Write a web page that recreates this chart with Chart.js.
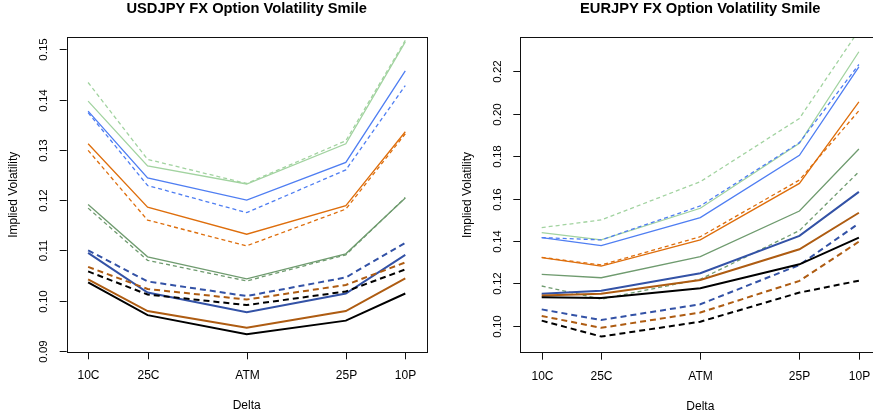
<!DOCTYPE html>
<html>
<head>
<meta charset="utf-8">
<script src="https://cdn.jsdelivr.net/npm/chart.js@4.4.4/dist/chart.umd.min.js"></script>
<style>
  html, body { margin: 0; padding: 0; background: #fff; overflow: hidden; }
  #wrap { position: relative; width: 873px; height: 419px; overflow: hidden; }
  #usdBox { position: absolute; left: 0; top: 0; width: 437px; height: 419px; }
  #eurBox { position: absolute; left: 436px; top: 0; width: 450px; height: 419px; }
</style>
</head>
<body>
<div id="wrap">
  <div id="usdBox"><canvas id="usdCanvas"></canvas></div>
  <div id="eurBox"><canvas id="eurCanvas"></canvas></div>
</div>
<script>
// ---- data ----
const deltaLabels = ['10C', '25C', 'ATM', '25P', '10P'];
const deltaPos = [0.1, 0.25, 0.5, 0.75, 0.9];

// USDJPY smiles (solid / dashed per colour)
const usdBlack      = [0.1036, 0.0971, 0.0933, 0.0960, 0.1014];
const usdBlackDash  = [0.1058, 0.1012, 0.0991, 0.1018, 0.1062];
const usdBrown      = [0.1042, 0.0979, 0.0946, 0.0979, 0.1044];
const usdBrownDash  = [0.1067, 0.1023, 0.1002, 0.1031, 0.1076];
const usdNavy       = [0.1095, 0.1016, 0.0977, 0.1014, 0.1091];
const usdNavyDash   = [0.1100, 0.1038, 0.1009, 0.1046, 0.1115];
const usdSage       = [0.1191, 0.1087, 0.1043, 0.1093, 0.1204];
const usdSageDash   = [0.1184, 0.1080, 0.1039, 0.1091, 0.1205];
const usdOrange     = [0.1312, 0.1186, 0.1132, 0.1189, 0.1336];
const usdOrangeDash = [0.1299, 0.1160, 0.1109, 0.1182, 0.1332];
const usdBlue       = [0.1377, 0.1244, 0.1200, 0.1275, 0.1457];
const usdBlueDash   = [0.1374, 0.1229, 0.1175, 0.1260, 0.1428];
const usdMint       = [0.1397, 0.1268, 0.1232, 0.1312, 0.1515];
const usdMintDash   = [0.1434, 0.1281, 0.1233, 0.1318, 0.1518];

// EURJPY smiles
const eurBlack      = [0.1135, 0.1132, 0.1177, 0.1290, 0.1416];
const eurBlackDash  = [0.1025, 0.0950, 0.1020, 0.1157, 0.1213];
const eurBrown      = [0.1143, 0.1152, 0.1216, 0.1361, 0.1533];
const eurBrownDash  = [0.1047, 0.0991, 0.1063, 0.1212, 0.1397];
const eurNavy       = [0.1152, 0.1166, 0.1248, 0.1424, 0.1631];
const eurNavyDash   = [0.1078, 0.1028, 0.1102, 0.1287, 0.1483];
const eurSage       = [0.1243, 0.1227, 0.1326, 0.1541, 0.1833];
const eurSageDash   = [0.1188, 0.1126, 0.1220, 0.1449, 0.1726];
const eurOrange     = [0.1322, 0.1282, 0.1405, 0.1671, 0.2055];
const eurOrangeDash = [0.1323, 0.1287, 0.1420, 0.1687, 0.2013];
const eurBlue       = [0.1416, 0.1378, 0.1510, 0.1803, 0.2220];
const eurBlueDash   = [0.1416, 0.1405, 0.1565, 0.1863, 0.2231];
const eurMint       = [0.1439, 0.1405, 0.1554, 0.1860, 0.2291];
const eurMintDash   = [0.1463, 0.1499, 0.1679, 0.1977, 0.2392];

const usdYTicks = [0.09, 0.10, 0.11, 0.12, 0.13, 0.14, 0.15];
const usdYLabels = ['0.09', '0.10', '0.11', '0.12', '0.13', '0.14', '0.15'];
const eurYTicks = [0.10, 0.12, 0.14, 0.16, 0.18, 0.20, 0.22];
const eurYLabels = ['0.10', '0.12', '0.14', '0.16', '0.18', '0.20', '0.22'];

// ---- styling ----
const COLORS = {
  black: '#000000', brown: '#AE5C12', navy: '#3352A6', sage: '#6F9B6F',
  orange: '#DE6E0C', blue: '#4F7EF2', mint: '#A2D3A0'
};
const THICK = { black: 2, brown: 2, navy: 2 };

function makeSets(prefix, src) {
  const sets = [];
  ['black', 'brown', 'navy', 'sage', 'orange', 'blue', 'mint'].forEach(function (c) {
    [false, true].forEach(function (dashed) {
      const vals = src[c + (dashed ? 'Dash' : '')];
      const w = THICK[c] || 1.3;
      sets.push({
        label: prefix + ' ' + c + (dashed ? ' dashed' : ''),
        data: vals.map(function (v, i) { return { x: deltaPos[i], y: v }; }),
        showLine: true,
        borderColor: COLORS[c],
        backgroundColor: COLORS[c],
        borderWidth: w,
        borderDash: dashed ? (w > 1.5 ? [6, 4] : [4, 3]) : [],
        pointRadius: 0,
        tension: 0
      });
    });
  });
  return sets;
}

// R-style frame, ticks and labels drawn on the library scales
function rFrame(title, yTicks, yLabels) {
  return {
    id: 'rFrame',
    afterDatasetsDraw: function (chart) {
      const ctx = chart.ctx;
      const a = chart.chartArea;
      const xs = chart.scales.x;
      const ys = chart.scales.y;
      ctx.save();
      ctx.strokeStyle = '#111';
      ctx.fillStyle = '#000';
      ctx.lineWidth = 1;
      ctx.strokeRect(Math.round(a.left) + 0.5, Math.round(a.top) + 0.5,
        Math.round(a.right - a.left), Math.round(a.bottom - a.top));

      ctx.font = '12px "Liberation Sans", Arial, sans-serif';
      ctx.textAlign = 'center';
      ctx.textBaseline = 'middle';
      deltaPos.forEach(function (v, i) {
        const px = Math.round(xs.getPixelForValue(v)) + 0.5;
        ctx.beginPath();
        ctx.moveTo(px, a.bottom);
        ctx.lineTo(px, a.bottom + 7);
        ctx.stroke();
        ctx.fillText(deltaLabels[i], px, a.bottom + 23.5);
      });

      ctx.font = '11.5px "Liberation Sans", Arial, sans-serif';
      yTicks.forEach(function (v, i) {
        const py = Math.round(ys.getPixelForValue(v)) + 0.5;
        ctx.beginPath();
        ctx.moveTo(a.left - 7, py);
        ctx.lineTo(a.left, py);
        ctx.stroke();
        ctx.save();
        ctx.translate(a.left - 22.5, py);
        ctx.rotate(-Math.PI / 2);
        ctx.fillText(yLabels[i], 0, 0);
        ctx.restore();
      });

      ctx.font = '12px "Liberation Sans", Arial, sans-serif';
      ctx.fillText('Delta', (a.left + a.right) / 2, a.bottom + 53.5);
      ctx.save();
      ctx.translate(a.left - 53, (a.top + a.bottom) / 2);
      ctx.rotate(-Math.PI / 2);
      ctx.fillText('Implied Volatility', 0, 0);
      ctx.restore();

      ctx.font = 'bold 14.7px "Liberation Sans", Arial, sans-serif';
      ctx.fillText(title, (a.left + a.right) / 2, 9);
      ctx.restore();
    }
  };
}

function buildChart(canvasId, title, sets, yMin, yMax, yTicks, yLabels, pad) {
  return new Chart(document.getElementById(canvasId), {
    type: 'scatter',
    data: { datasets: sets },
    options: {
      responsive: true,
      maintainAspectRatio: false,
      animation: false,
      layout: { padding: pad },
      plugins: { legend: { display: false }, tooltip: { enabled: false }, title: { display: false } },
      scales: {
        x: { type: 'linear', min: 0.046, max: 0.954, display: false },
        y: { type: 'linear', min: yMin, max: yMax, display: false }
      }
    },
    plugins: [rFrame(title, yTicks, yLabels)]
  });
}

buildChart('usdCanvas', 'USDJPY FX Option Volatility Smile',
  makeSets('USDJPY', {
    black: usdBlack, blackDash: usdBlackDash, brown: usdBrown, brownDash: usdBrownDash,
    navy: usdNavy, navyDash: usdNavyDash, sage: usdSage, sageDash: usdSageDash,
    orange: usdOrange, orangeDash: usdOrangeDash, blue: usdBlue, blueDash: usdBlueDash,
    mint: usdMint, mintDash: usdMintDash
  }),
  0.0897, 0.1524, usdYTicks, usdYLabels,
  { left: 66.7, right: 10.3, top: 37.3, bottom: 66.7 });

buildChart('eurCanvas', 'EURJPY FX Option Volatility Smile',
  makeSets('EURJPY', {
    black: eurBlack, blackDash: eurBlackDash, brown: eurBrown, brownDash: eurBrownDash,
    navy: eurNavy, navyDash: eurNavyDash, sage: eurSage, sageDash: eurSageDash,
    orange: eurOrange, orangeDash: eurOrangeDash, blue: eurBlue, blueDash: eurBlueDash,
    mint: eurMint, mintDash: eurMintDash
  }),
  0.0874, 0.2359, eurYTicks, eurYLabels,
  { left: 84.3, right: 5.7, top: 37.3, bottom: 66.3 });
</script>
</body>
</html>
